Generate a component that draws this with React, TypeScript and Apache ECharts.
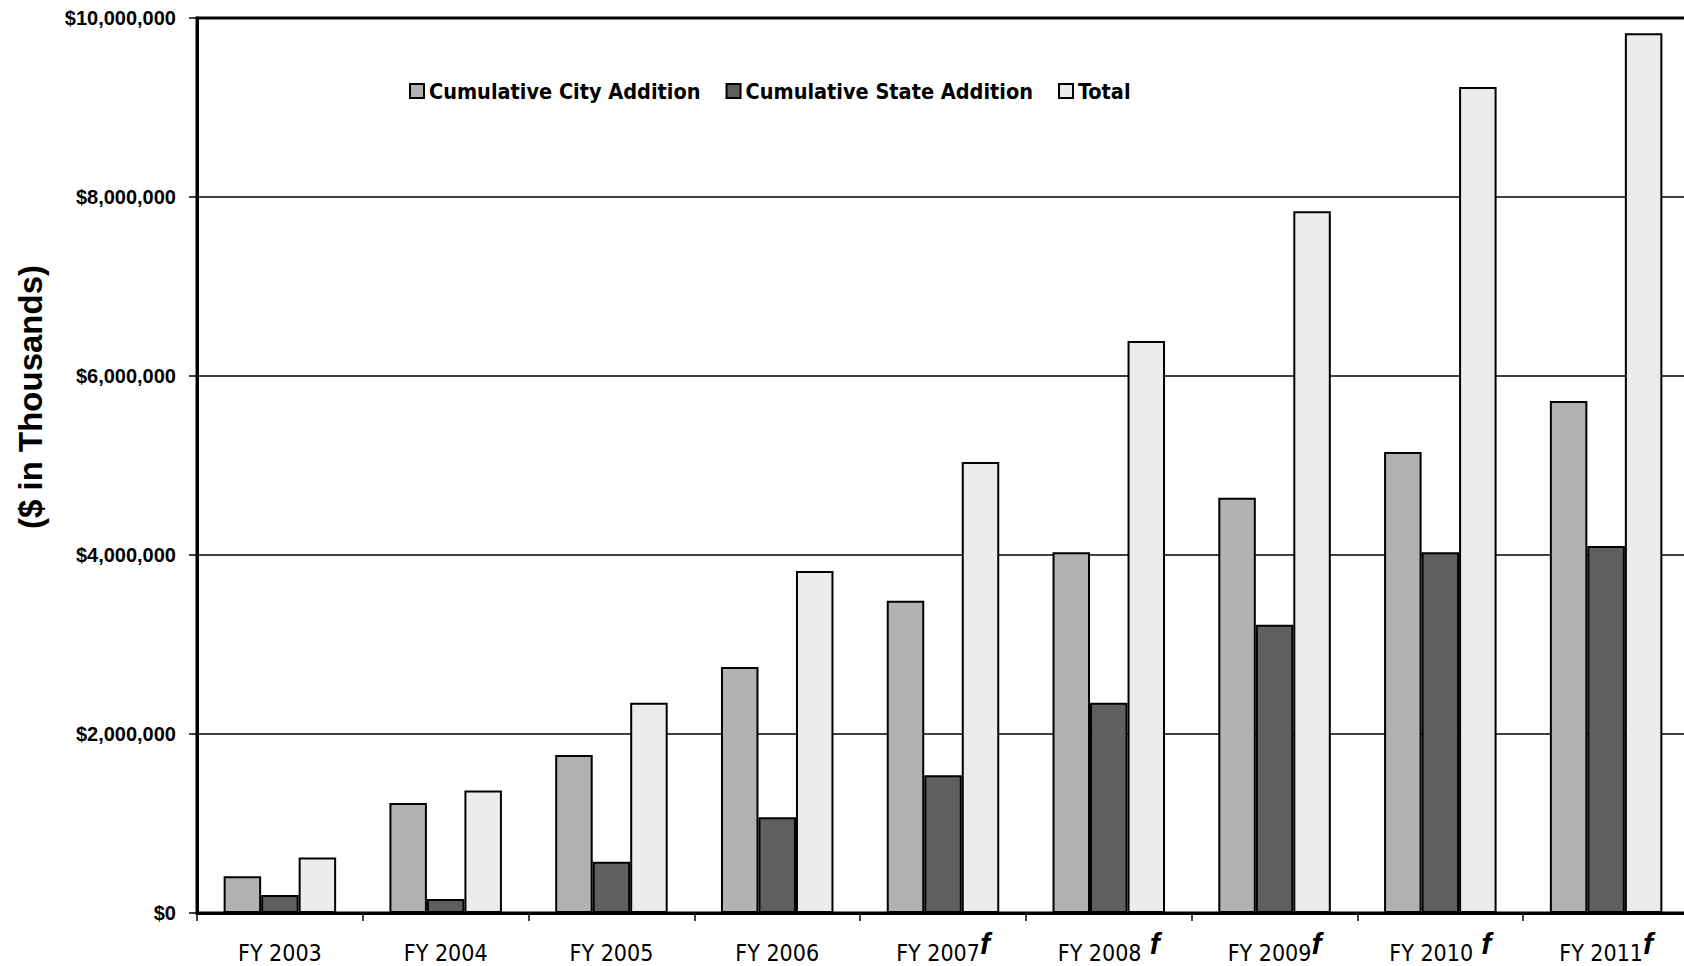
import React, { useEffect, useRef } from "react";
import * as echarts from "echarts";

const categories = ["FY 2003", "FY 2004", "FY 2005", "FY 2006", "FY 2007", "FY 2008", "FY 2009", "FY 2010", "FY 2011"];
const forecastMarks = ["", "", "", "", "f", " f", "f", " f", "f"];
const cityAddition = [410000, 1230000, 1765000, 2750000, 3490000, 4030000, 4640000, 5150000, 5720000];
const stateAddition = [200000, 157000, 573000, 1070000, 1540000, 2350000, 3220000, 4030000, 4100000];
const total = [620000, 1370000, 2350000, 3820000, 5040000, 6390000, 7840000, 9230000, 9830000];
const seriesNames = ["Cumulative City Addition", "Cumulative State Addition", "Total"];
const seriesColors = ["#b2b2b2", "#5f5f5f", "#ececec"];
const yTicks = { min: 0, max: 10000000, interval: 2000000 };

const NARROW = "'Liberation Sans Narrow', 'Arial Narrow', 'DejaVu Sans Condensed', sans-serif";
const ARIAL = "'Liberation Sans', Arial, sans-serif";

export default function App() {
  const ref = useRef<HTMLDivElement>(null);
  useEffect(() => {
    if (!ref.current) return;
    const chart = echarts.init(ref.current, null, { renderer: "svg" });
    const values = [cityAddition, stateAddition, total];
    chart.setOption({
      animation: false,
      backgroundColor: "#ffffff",
      grid: {
        left: 197,
        right: -5,
        top: 18,
        bottom: 53,
        outerBoundsMode: "none",
        containLabel: false,
        show: true,
        borderColor: "#000",
        borderWidth: 3,
        backgroundColor: "transparent",
      },
      legend: {
        left: 409,
        top: 80,
        padding: 0,
        itemGap: 25,
        itemWidth: 14,
        itemHeight: 14,
        icon: "rect",
        textStyle: { fontFamily: NARROW, fontWeight: "bold", fontSize: 21.5, color: "#000" },
        data: seriesNames,
      },
      xAxis: {
        type: "category",
        data: categories,
        axisLine: { lineStyle: { color: "#000", width: 3 } },
        axisTick: { show: true, length: 8, lineStyle: { color: "#000", width: 1.5 } },
        axisLabel: {
          interval: 0,
          margin: 27,
          lineHeight: 26,
          color: "#000",
          fontFamily: NARROW,
          fontSize: 23,
          formatter: (v: string, i: number) => (forecastMarks[i] ? `${v}{f|${forecastMarks[i]}}` : v),
          rich: {
            f: {
              fontFamily: ARIAL,
              fontStyle: "italic",
              fontWeight: "bold",
              fontSize: 30,
              lineHeight: 26,
              color: "#000",
              padding: [0, 0, 20, 0],
            },
          },
        },
      },
      yAxis: {
        type: "value",
        min: yTicks.min,
        max: yTicks.max,
        interval: yTicks.interval,
        axisLine: { show: true, lineStyle: { color: "#000", width: 3 } },
        axisTick: { show: true, length: 8, lineStyle: { color: "#000", width: 1.5 } },
        splitLine: { lineStyle: { color: "#000", width: 1.5 } },
        axisLabel: {
          margin: 21,
          color: "#000",
          fontFamily: ARIAL,
          fontWeight: "bold",
          fontSize: 20,
          formatter: (v: number) => "$" + v.toLocaleString("en-US"),
        },
      },
      graphic: [
        {
          type: "text",
          x: 30,
          y: 397,
          rotation: Math.PI / 2,
          style: {
            text: "($ in Thousands)",
            fontFamily: ARIAL,
            fontWeight: "bold",
            fontSize: 33,
            fill: "#000",
            align: "center",
            verticalAlign: "middle",
          },
        },
      ],
      series: seriesNames.map((name, i) => ({
        name,
        type: "bar",
        data: values[i],
        barWidth: 37.5,
        barGap: "0%",
        itemStyle: { color: seriesColors[i], borderColor: "#000", borderWidth: 2 },
      })),
    });
    return () => chart.dispose();
  }, []);
  return <div ref={ref} style={{ position: "absolute", left: 0, top: 0, width: 1684, height: 966 }} />;
}
